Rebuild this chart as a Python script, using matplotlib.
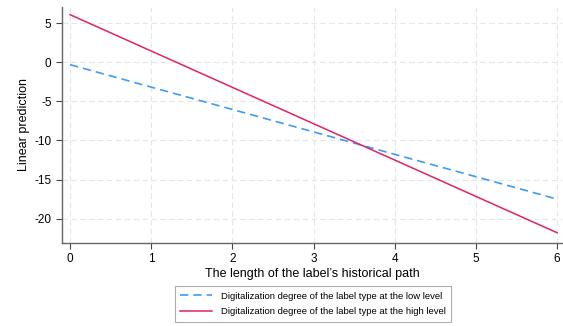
import matplotlib
matplotlib.use("Agg")
import matplotlib.pyplot as plt

plt.rcParams['font.family'] = ['Liberation Sans', 'DejaVu Sans']
plt.rcParams['axes.unicode_minus'] = False

x_vals = [0, 1, 2, 3, 4, 5, 6]
low_level = [-0.3, -3.17, -6.03, -8.9, -11.77, -14.63, -17.5]
high_level = [6.1, 1.45, -3.2, -7.85, -12.5, -17.15, -21.8]
x_ticks = [0, 1, 2, 3, 4, 5, 6]
y_ticks = [5, 0, -5, -10, -15, -20]
labels = ["Digitalization degree of the label type at the low level",
          "Digitalization degree of the label type at the high level"]

fig = plt.figure(figsize=(5.63, 3.26), dpi=100)
ax = fig.add_axes([0.110, 0.255, 0.888, 0.724])

ax.plot(x_vals, low_level, color='#3d9bf5', linestyle=(0, (5, 3)), linewidth=1.2, label=labels[0])
ax.plot(x_vals, high_level, color='#e0245e', linestyle='-', linewidth=1.1, label=labels[1])

ax.set_xlim(-0.1, 6.06)
ax.set_ylim(-23.1, 7.1)
ax.set_xticks(x_ticks)
ax.set_yticks(y_ticks)
ax.grid(True, color='#e6e6e6', linestyle=(0, (5, 3)), linewidth=0.8)
ax.set_axisbelow(True)
for s in ['top', 'right']:
    ax.spines[s].set_visible(False)
for s in ['left', 'bottom']:
    ax.spines[s].set_color('#666666')
    ax.spines[s].set_linewidth(1.0)
ax.tick_params(colors='#444444', labelcolor='black', labelsize=8.5, length=4, width=0.8)
ax.set_xlabel("The length of the label\u2019s historical path", fontsize=9, labelpad=2)
ax.set_ylabel("Linear prediction", fontsize=9, labelpad=3)

leg = fig.legend(loc='center', bbox_to_anchor=(0.556, 0.068), fontsize=6.8,
                 frameon=True, fancybox=False, edgecolor='#999999',
                 handlelength=3.4, handletextpad=0.9, borderpad=0.6, labelspacing=0.7)
leg.get_frame().set_linewidth(0.8)

fig.savefig("out.png", dpi=100)
